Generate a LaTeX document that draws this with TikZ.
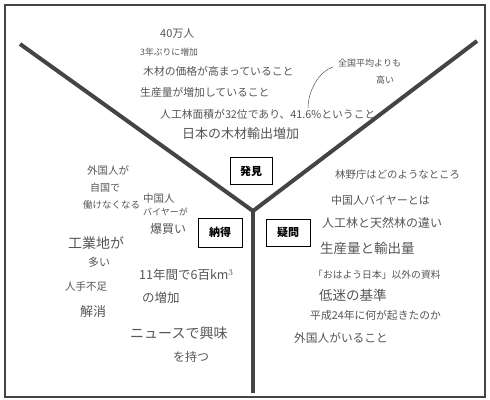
\documentclass[tikz,border=0pt]{standalone}
\usepackage{fontspec}
\setmainfont{Noto Sans CJK JP}
\definecolor{ink}{HTML}{555555}
\definecolor{arm}{HTML}{444444}
\tikzset{
  hw/.style={anchor=west, inner sep=0pt, text=ink},
  labelbox/.style={draw=black, line width=0.7pt, minimum width=43pt, minimum height=28pt, inner sep=0pt, font=\fontsize{11}{11}\selectfont\bfseries},
  armline/.style={draw=arm, line width=4pt},
  frameline/.style={draw=arm, line width=1.2pt},
}
\newcommand{\fs}[1]{\fontsize{#1}{#1}\selectfont}
\begin{document}
\begin{tikzpicture}[x=1pt,y=-1pt]
\useasboundingbox (0,0) rectangle (490,399);
\draw[frameline] (5,5) rectangle (485,397);
% Y shape
\coordinate (tl) at (20,44);
\coordinate (tr) at (477,41);
\coordinate (j) at (253,211);
\coordinate (b) at (253,393);
\draw[armline, line join=miter] (tl) -- (j) -- (tr);
\draw[armline] (j) -- (b);
% boxes
\node[labelbox, minimum width=42pt, minimum height=27pt] (hakken) at (251,171) {発見};
\node[labelbox, minimum width=44pt, minimum height=29pt] (nattoku) at (220,232.5) {納得};
\node[labelbox, minimum width=44pt, minimum height=27pt] (gimon) at (288,232.5) {疑問};
% top texts
\node[hw, font=\fs{11}] (t1) at (160,33) {40万人};
\node[hw, font=\fs{8.8}] (t2) at (140,52) {3年ぶりに増加};
\node[hw, font=\fs{10.8}] (t3) at (143,71) {木材の価格が高まっていること};
\node[hw, font=\fs{10.8}] (t4) at (140,92) {生産量が増加していること};
\node[hw, font=\fs{10.8}] (t5) at (160,114) {人工林面積が32位であり、41.6\%ということ};
\node[hw, font=\fs{13}] (t6) at (182,134) {日本の木材輸出増加};
\node[hw, font=\fs{9}] (t7) at (338,63) {全国平均よりも};
\node[hw, font=\fs{9}] (t8) at (376,80) {高い};
\coordinate (c1) at (333,67);
\coordinate (c2) at (308,108);
\draw[ink, line width=0.5pt] (c1) .. controls (318,72) and (308,92) .. (c2);
% left texts
\node[hw, font=\fs{10.5}] (l1) at (87,170) {外国人が};
\node[hw, font=\fs{10}] (l2) at (90,188) {自国で};
\node[hw, font=\fs{9.5}] (l3) at (83,205) {働けなくなる};
\node[hw, font=\fs{10.5}] (l4) at (143,199) {中国人};
\node[hw, font=\fs{9}] (l5) at (143,212) {バイヤーが};
\node[hw, font=\fs{12}] (l6) at (150,229) {爆買い};
\node[hw, font=\fs{14}] (l7) at (68,243) {工業地が};
\node[hw, font=\fs{11}] (l8) at (88,262) {多い};
\node[hw, font=\fs{10.5}] (l9) at (65,287) {人手不足};
\node[hw, font=\fs{13}] (l10) at (80,312) {解消};
\node[hw, font=\fs{12.5}] (l11) at (139,275) {11年間で6百km$^3$};
\node[hw, font=\fs{12.5}] (l12) at (142,298) {の増加};
\node[hw, font=\fs{14}] (l13) at (130,333) {ニュースで興味};
\node[hw, font=\fs{12}] (l14) at (173,357) {を持つ};
% right texts
\node[hw, font=\fs{10.4}] (r1) at (335,175) {林野庁はどのようなところ};
\node[hw, font=\fs{11}] (r2) at (331,200) {中国人バイヤーとは};
\node[hw, font=\fs{12}] (r3) at (322,223) {人工林と天然林の違い};
\node[hw, font=\fs{13.5}] (r4) at (320,248) {生産量と輸出量};
\node[hw, font=\fs{9.8}] (r5) at (313,275) {「おはよう日本」以外の資料};
\node[hw, font=\fs{13.5}] (r6) at (319,295) {低迷の基準};
\node[hw, font=\fs{10.8}] (r7) at (310,315) {平成24年に何が起きたのか};
\node[hw, font=\fs{11.7}] (r8) at (294,338) {外国人がいること};
\end{tikzpicture}
\end{document}
